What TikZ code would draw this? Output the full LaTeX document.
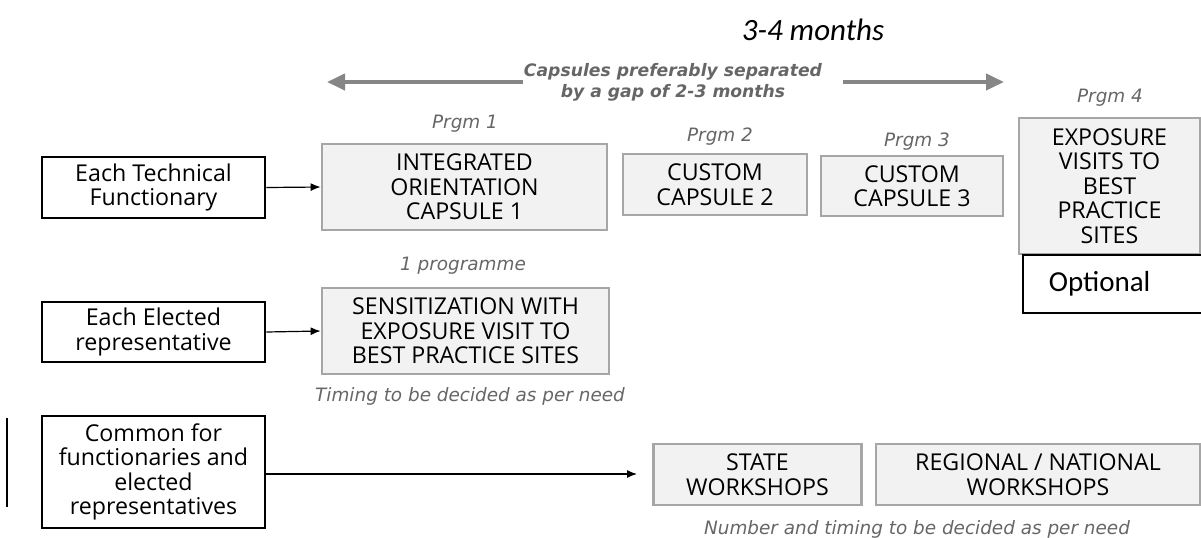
\documentclass[tikz,border=0pt]{standalone}
\usepackage{fontspec}
\setmainfont{Open Sans}
\newfontfamily\notefont{DejaVu Sans}
\newfontfamily\calfont{Carlito}
\usepackage{tikz}
\usetikzlibrary{arrows.meta}
\usetikzlibrary{positioning}
\definecolor{boxfill}{HTML}{F2F2F2}
\definecolor{boxline}{HTML}{A6A6A6}
\definecolor{notegray}{HTML}{666666}
\definecolor{spanarrow}{HTML}{868686}
\tikzset{
whobox/.style={draw=black, line width=1.3pt, align=center, inner sep=0pt,
  minimum width=111.5pt, font=\fontsize{11.6}{12.3}\selectfont},
prgbox/.style={draw=boxline, fill=boxfill, line width=1.4pt, align=center, inner sep=0pt,
  font=\fontsize{11.6}{12.3}\selectfont},
note/.style={text=notegray, font=\notefont\itshape\fontsize{9.2}{10}\selectfont},
span/.style={draw=spanarrow, line width=2pt, -{Triangle[length=9pt,width=8pt]}},
link/.style={line width=0.6pt, -{Latex[length=5pt,width=4pt]}}}

\begin{document}
\begin{tikzpicture}[x=0.5pt,y=-0.5pt]
                \useasboundingbox (0,0) rectangle (1201,537);
                \clip (0,0) rectangle (1201,537);

                % who is trained
                \node[whobox, minimum height=30.5pt] (tech) at (153.5,187.5) {Each Technical\\Functionary};
                \node[whobox, minimum height=30pt] (elected) at (153.5,332) {Each Elected\\representative};
                \node[whobox, minimum height=56pt] (common) at (153.5,472) {Common for\\functionaries and\\elected\\representatives};
                \draw[line width=1.1pt] (7,418) -- (7,507);

                % programmes
                \node[prgbox, minimum width=142.5pt, minimum height=43pt] (integ) at (464.5,187) {INTEGRATED\\ORIENTATION\\CAPSULE 1};
                \node[prgbox, minimum width=92pt, minimum height=30.5pt] (cust2) at (715,184.5) {CUSTOM\\CAPSULE 2};
                \node[prgbox, minimum width=91pt, minimum height=30pt] (cust3) at (912,186) {CUSTOM\\CAPSULE 3};
                \node[prgbox, minimum width=90.5pt, minimum height=68pt] (expo) at (1109.5,186) {EXPOSURE\\VISITS TO\\BEST\\PRACTICE\\SITES};
                \node[draw=black, line width=0.8pt, minimum width=95pt, minimum height=29pt, inner sep=0pt,
                      anchor=north west, text width=85pt, align=left, font=\calfont\fontsize{14.5}{16}\selectfont] (optional) at (1022,254) {\hspace*{8pt}Optional};
                \node[prgbox, minimum width=143.5pt, minimum height=43pt] (sensit) at (465.5,331) {SENSITIZATION WITH\\EXPOSURE VISIT TO\\BEST PRACTICE SITES};
                \node[prgbox, minimum width=104pt, minimum height=30.5pt] (state) at (757.5,474.5) {STATE\\WORKSHOPS};
                \node[prgbox, minimum width=162pt, minimum height=30.5pt] (region) at (1038,474.5) {REGIONAL / NATIONAL\\WORKSHOPS};

                % notes
                \node[note] (p1) at (465,124) {Prgm 1};
                \node[note] (p2) at (720,137) {Prgm 2};
                \node[note] (p3) at (917,142) {Prgm 3};
                \node[note] (p4) at (1110,98) {Prgm 4};
                \node[note] (once) at (463,266) {1 programme};
                \node[note] (timing) at (470,396) {Timing to be decided as per need};
                \node[note] (number) at (917,529) {Number and timing to be decided as per need};
                \node[font=\calfont\itshape\fontsize{15.5}{16}\selectfont] (months) at (813,30) {3-4 months};
                \node[text=notegray, align=center, inner sep=0pt,
                      font=\notefont\bfseries\itshape\fontsize{8.6}{10.4}\selectfont] (gap) at (673,82) {Capsules preferably separated\\by a gap of 2-3 months};

                % arrows
                \coordinate (spanl) at (327,82);
                \coordinate (spanr) at (1004,82);
                \draw[span] (523,82) -- (spanl);
                \draw[span] (843,82) -- (spanr);
                \coordinate (wsend) at (637,474);
                \draw[link] (tech.east) -- (integ.west);
                \draw[link] (elected.east) -- (sensit.west);
                \draw[link] (common.east |- wsend) -- (wsend);

            \end{tikzpicture}
\end{document}
